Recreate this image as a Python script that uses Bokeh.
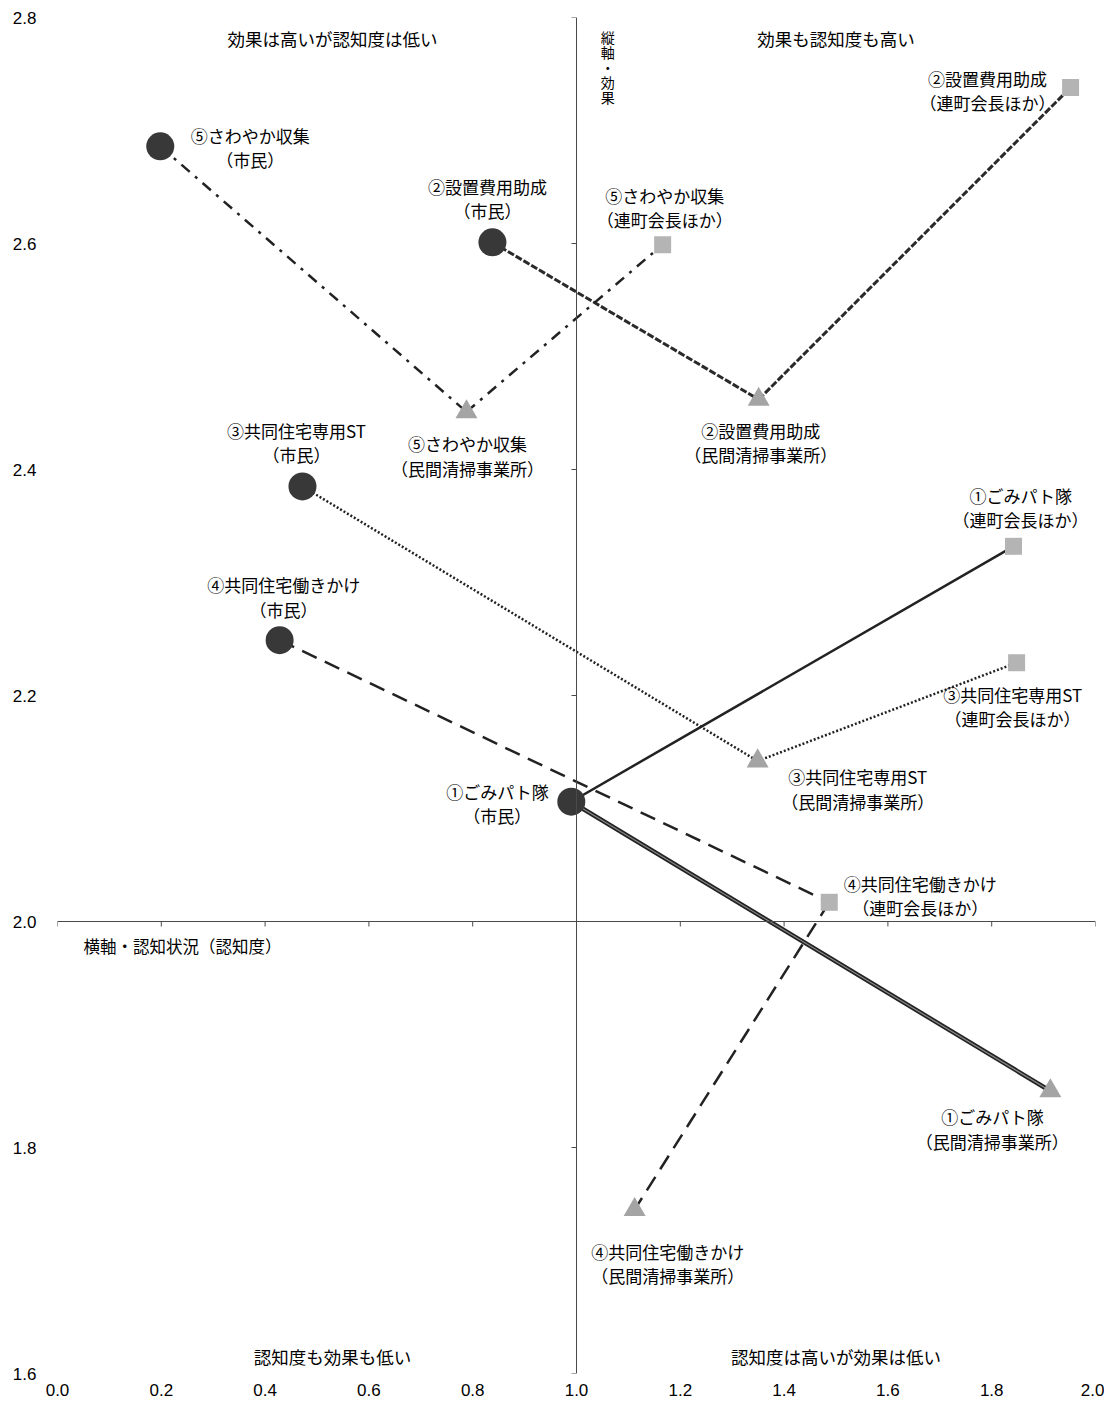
from bokeh.plotting import figure
from bokeh.embed import file_html
from bokeh.resources import INLINE
from bokeh.models import ColumnDataSource, Span, FixedTicker, NumeralTickFormatter
from bokeh.core.properties import value

# ---------------- data ----------------
measures = ["①ごみパト隊", "②設置費用助成", "③共同住宅専用ST", "④共同住宅働きかけ", "⑤さわやか収集"]
groups = ["市民", "連町会長ほか", "民間清掃事業所"]

# 横軸・認知状況（認知度） / 縦軸・効果
x_shimin = [0.990, 0.838, 0.472, 0.428, 0.198]
y_shimin = [2.106, 2.601, 2.385, 2.249, 2.686]
x_rencho = [1.842, 1.952, 1.848, 1.487, 1.166]
y_rencho = [2.332, 2.738, 2.229, 2.017, 2.599]
x_minkan = [1.913, 1.351, 1.349, 1.112, 0.788]
y_minkan = [1.850, 2.462, 2.142, 1.745, 2.451]

x_ticks = [0.0, 0.2, 0.4, 0.6, 0.8, 1.0, 1.2, 1.4, 1.6, 1.8, 2.0]
y_ticks = [1.6, 1.8, 2.0, 2.2, 2.4, 2.6, 2.8]

quadrant_texts = ["効果は高いが認知度は低い", "効果も認知度も高い", "認知度も効果も低い", "認知度は高いが効果は低い"]
x_title = "横軸・認知状況（認知度）"
y_title = "縦軸・効果"

# ---------------- styles / layout ----------------
X0, X1, Y0, Y1 = 0.0, 2.0, 1.6, 2.8
W, H = 1104, 1402
BL, BR, BT, BB = 57, 9, 17, 29
FW, FH = W - BL - BR, H - BT - BB

JP = "Noto Sans CJK JP"
NUM = "Liberation Sans"

XS = {"市民": x_shimin, "連町会長ほか": x_rencho, "民間清掃事業所": x_minkan}
YS = {"市民": y_shimin, "連町会長ほか": y_rencho, "民間清掃事業所": y_minkan}

# label offsets (px) per group, per measure
label_offsets = {
    "市民": [(-74, 2), (-5, -44), (-6, -44), (4, -43), (90, 1)],
    "連町会長ほか": [(7, -39), (-83, 3), (-4, 44), (91, -7), (2, -37)],
    "民間清掃事業所": [(-58, 38), (2, 43), (100, 28), (33, 54), (1, 44)],
}

segments = [
    [("市民", "連町会長ほか", "single"), ("市民", "民間清掃事業所", "double")],
    [("市民", "民間清掃事業所", "dashdouble"), ("民間清掃事業所", "連町会長ほか", "dashdouble")],
    [("市民", "民間清掃事業所", "dot"), ("民間清掃事業所", "連町会長ほか", "dot")],
    [("市民", "連町会長ほか", "dash"), ("連町会長ほか", "民間清掃事業所", "dash")],
    [("市民", "民間清掃事業所", "dashdot"), ("民間清掃事業所", "連町会長ほか", "dashdot")],
]
styles = {
    "single": [dict(line_color="#222222", line_width=2.5)],
    "double": [dict(line_color="#222222", line_width=4.5), dict(line_color="#8a8a8a", line_width=1.2)],
    "dashdouble": [dict(line_color="#2a2a2a", line_width=3, line_dash="7 2")],
    "dot": [dict(line_color="#222222", line_width=2.5, line_dash="2 2")],
    "dash": [dict(line_color="#222222", line_width=2.5, line_dash="16 9")],
    "dashdot": [dict(line_color="#222222", line_width=2.5, line_dash="11 7 3 7")],
}
markers = {
    "市民": dict(marker="circle", size=28, fill_color="#383838"),
    "連町会長ほか": dict(marker="square", size=17, fill_color="#b4b4b4"),
    "民間清掃事業所": dict(marker="triangle", size=22, fill_color="#a4a4a4"),
}

p = figure(width=W, height=H, x_range=(X0, X1), y_range=(Y0, Y1),
           output_backend="svg", toolbar_location=None,
           min_border_left=BL, min_border_right=BR, min_border_top=BT, min_border_bottom=BB)
p.outline_line_color = None
p.grid.visible = False
p.background_fill_color = "white"

for ax, ticks in ((p.xaxis, x_ticks), (p.yaxis, y_ticks)):
    ax.ticker = FixedTicker(ticks=ticks)
    ax.formatter = NumeralTickFormatter(format="0.0")
    ax.axis_line_color = None
    ax.major_tick_line_color = None
    ax.minor_tick_line_color = None
    ax.major_tick_out = 0
    ax.major_tick_in = 0
    ax.major_label_text_font = NUM
    ax.major_label_text_font_size = "17px"
    ax.major_label_text_color = "black"
p.yaxis.major_label_standoff = 21
p.xaxis.major_label_standoff = 10

# crossing axes at x=1.0, y=2.0
AXC = "#4a4a4a"
p.add_layout(Span(location=1.0, dimension="height", line_color=AXC, line_width=1))
p.add_layout(Span(location=2.0, dimension="width", line_color=AXC, line_width=1))
tx = 5 * (X1 - X0) / FW
ty = 5 * (Y1 - Y0) / FH
p.segment(x0=[1.0 - tx] * len(y_ticks), y0=y_ticks, x1=[1.0] * len(y_ticks), y1=y_ticks,
          line_color=AXC, line_width=1)
p.segment(x0=x_ticks, y0=[2.0] * len(x_ticks), x1=x_ticks, y1=[2.0 - ty] * len(x_ticks),
          line_color=AXC, line_width=1)

# lines
for i, segs in enumerate(segments):
    for g0, g1, st in segs:
        for kw in styles[st]:
            p.line(x=[XS[g0][i], XS[g1][i]], y=[YS[g0][i], YS[g1][i]], **kw)

# markers
for g in groups:
    m = markers[g]
    p.scatter(x=XS[g], y=YS[g], marker=m["marker"], size=m["size"],
              fill_color=m["fill_color"], line_color=None)

# point labels
for g in groups:
    src = ColumnDataSource(dict(
        x=XS[g], y=YS[g],
        text=[f"{m}\n（{g}）" for m in measures],
        xo=[o[0] for o in label_offsets[g]],
        yo=[o[1] for o in label_offsets[g]],
    ))
    p.text(x="x", y="y", text="text", x_offset="xo", y_offset="yo", source=src,
           text_font=value(JP), text_font_size="17px", text_color="black",
           text_align="center", text_baseline="middle", text_line_height=0.98)

# quadrant texts
qx = [0.53, 1.50, 0.53, 1.50]
qy = [2.781, 2.781, 1.615, 1.615]
p.text(x=qx, y=qy, text=quadrant_texts, text_font=value(JP), text_font_size="17.5px",
       text_color="black", text_align="center", text_baseline="middle")

# axis titles
p.text(x=[0.05], y=[1.978], text=[x_title], text_font=value(JP), text_font_size="16.5px",
       text_color="black", text_align="left", text_baseline="middle")
p.text(x=[1.06], y=[2.792], text=["\n".join(list(y_title))], text_font=value(JP),
       text_font_size="14px", text_color="black", text_align="center", text_baseline="top",
       text_line_height=0.76)

open("out.html", "w").write(file_html(p, INLINE))
